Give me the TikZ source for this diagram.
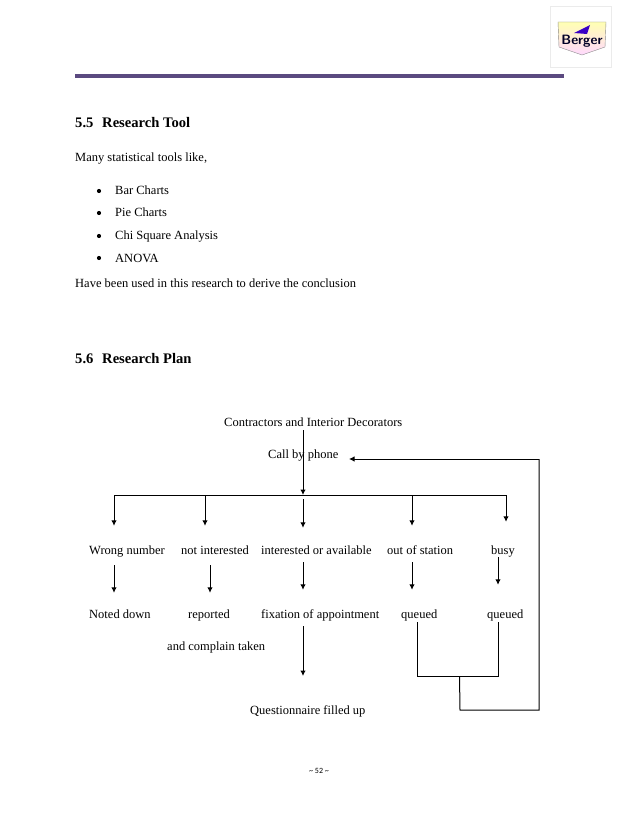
\documentclass[tikz,border=0pt]{standalone}
\usepackage{fontspec}
\setmainfont{Liberation Serif}
\newfontfamily\pagefont{Carlito}
\usetikzlibrary{positioning,arrows,calc,arrows.meta}
\definecolor{rulepurple}{HTML}{5B4A80}
\tikzset{
	plan/.style={x=1pt,y=-1pt,>={Latex[length=5.5pt,width=5.5pt]},font=\fontsize{12.5}{14}\selectfont},
	label/.style={anchor=west,inner sep=0pt,minimum height=14pt,text height=9pt,text depth=3pt},
	heading/.style={anchor=west,inner sep=0pt,text height=10pt,text depth=3pt,font=\fontsize{14.6}{16}\selectfont\bfseries},
	bullet/.style={circle,fill=black,inner sep=0pt,minimum size=4.2pt},
	link/.style={line width=1pt},
	flow/.style={link,->}
}

\begin{document}
\begin{tikzpicture}[plan]
	\useasboundingbox (0,0) rectangle (638,826);
	
	% page head
	\node[draw=black!8,fill=white,minimum width=61pt,minimum height=61pt,inner sep=0pt] (logobox) at (581,37) {};
	\draw[black!45,top color=yellow!30,bottom color=magenta!15] (558,22) -- (606,22) -- (605,47) -- (582,55) -- (559,47) -- cycle;
	\fill[blue!55!violet] (574,33) -- (590,25) -- (587,34) -- cycle;
	\node[inner sep=0pt,text=black!85!blue,font=\fontsize{13.5}{13.5}\sffamily\bfseries] (logo) at (582,41) {Berger};
	\coordinate (rulel) at (75,76);
	\coordinate (ruler) at (564,76);
	\draw[rulepurple,line width=3.5pt] (rulel) -- (ruler);
	
	% section 5.5
	\node[heading] (tool) at (75,124.5) {5.5\hspace{0.6em}Research Tool};
	\node[label] (many) at (75,159) {Many statistical tools like,};
	\node[bullet] (b1) at (99,191) {};
	\node[bullet] (b2) at (99,213) {};
	\node[bullet] (b3) at (99,236) {};
	\node[bullet] (b4) at (99,258) {};
	\node[label] (bar) at (115,192) {Bar Charts};
	\node[label] (pie) at (115,214) {Pie Charts};
	\node[label] (chi) at (115,237) {Chi Square Analysis};
	\node[label] (anova) at (115,259) {ANOVA};
	\node[label] (have) at (75,284) {Have been used in this research to derive the conclusion};
	
	% section 5.6
	\node[heading] (plan) at (75,359.5) {5.6\hspace{0.6em}Research Plan};
	\node[label] (contractors) at (224,423) {Contractors and Interior Decorators};
	\node[label] (call) at (268,455) {Call by phone};
	\node[label] (wrong) at (89,551) {Wrong number};
	\node[label] (notint) at (181,551) {not interested};
	\node[label] (intav) at (261,551) {interested or available};
	\node[label] (out) at (387,551) {out of station};
	\node[label] (busy) at (491,551) {busy};
	\node[label] (noted) at (89,615) {Noted down};
	\node[label] (reported) at (188,615) {reported};
	\node[label] (fixation) at (261,615) {fixation of appointment};
	\node[label] (queuea) at (401,615) {queued};
	\node[label] (queueb) at (487,615) {queued};
	\node[label] (complain) at (167,647) {and complain taken};
	\node[label] (quest) at (250,711) {Questionnaire filled up};
	\node[anchor=center,inner sep=0pt,font=\pagefont\fontsize{8}{9}\selectfont] (page) at (319,771) {\textasciitilde\ 52 \textasciitilde};
	
	\coordinate (hub) at (303,495);
	\coordinate (busl) at (114,495);
	\coordinate (busn) at (205,495);
	\coordinate (buso) at (412,495);
	\coordinate (busr) at (506,495);
	\coordinate (coln) at (210,565);
	\coordinate (colb) at (498,557);
	\coordinate (joina) at (417,676);
	\coordinate (joinb) at (498,676);
	\coordinate (stem) at (459.5,676);
	\coordinate (turn) at (460,710);
	\coordinate (side) at (539,710);
	\coordinate (back) at (539,459);
	\coordinate (tip) at (349,459);
	
	\draw[flow] (contractors.south -| hub) -- (hub);
	\draw[link] (busl) -- (busr);
	\draw[flow,shorten >=18pt] (busl) -- (wrong.north -| busl);
	\draw[flow,shorten >=18pt] (busn) -- (notint.north -| busn);
	\draw[flow,shorten <=4pt,shorten >=16pt] (hub) -- (intav.north -| hub);
	\draw[flow,shorten >=18pt] (buso) -- (out.north -| buso);
	\draw[flow,shorten >=22pt] (busr) -- (busy.north -| busr);
	
	\draw[flow,shorten <=7pt,shorten >=15pt] (wrong.south -| busl) -- (noted.north -| busl);
	\draw[flow,shorten <=7pt,shorten >=15pt] (notint.south -| coln) -- (reported.north -| coln);
	\draw[flow,shorten <=4pt,shorten >=18pt] (intav.south -| hub) -- (fixation.north -| hub);
	\draw[flow,shorten <=4pt,shorten >=18pt] (out.south -| buso) -- (queuea.north -| buso);
	\draw[flow,shorten <=-1pt,shorten >=23pt] (busy.south -| colb) -- (queueb.north -| colb);
	\draw[flow,shorten <=4pt] (fixation.south -| hub) -- (hub |- stem);
	
	\draw[link] (queuea.south -| joina) -- (joina) -- (joinb) -- (queueb.south -| joinb);
	\draw[link] (stem) -- (turn) -- (side) -- (back);
	\draw[flow] (back) -- (tip);
\end{tikzpicture}
\end{document}
